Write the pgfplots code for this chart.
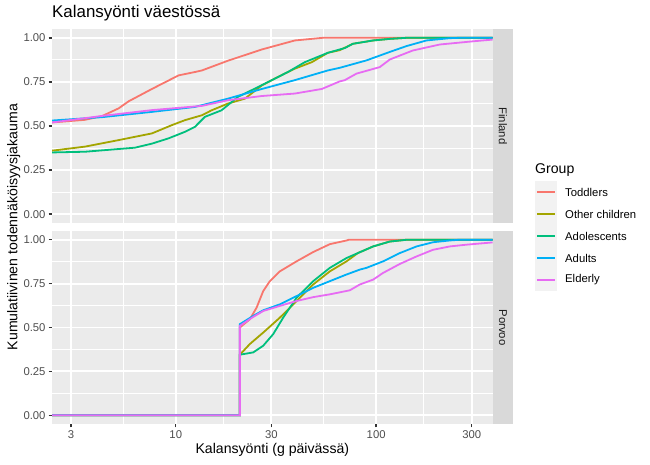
\documentclass[border=0pt]{standalone}
\usepackage{pgfplots}
\pgfplotsset{compat=1.18}
\usepackage{fontspec}
\setmainfont{Liberation Sans}
\definecolor{cTod}{HTML}{F8766D}
\definecolor{cOth}{HTML}{A3A500}
\definecolor{cAdo}{HTML}{00BF7D}
\definecolor{cAdu}{HTML}{00B0F6}
\definecolor{cEld}{HTML}{E76BF3}
\definecolor{gray92}{HTML}{EBEBEB}
\definecolor{gray85}{HTML}{D9D9D9}
\definecolor{gray95}{HTML}{F2F2F2}
\definecolor{gray30}{HTML}{4D4D4D}
\definecolor{gray20}{HTML}{333333}
\definecolor{gray10}{HTML}{1A1A1A}
\begin{document}
\begin{tikzpicture}
\useasboundingbox (0pt,0pt) rectangle (650pt,465pt);
% ---------------- top panel: Finland
\begin{axis}[name=top, at={(52pt,242pt)}, anchor=south west, height=194pt,
  scale only axis, width=440.7pt,
  xmode=log, xmin=2.412, xmax=381.7, ymin=-0.05, ymax=1.05,
  axis background/.style={fill=gray92},
  axis line style={draw=none},
  grid=both,
  major grid style={white, line width=1.8pt},
  minor grid style={white, line width=0.9pt},
  xtick={3,10,30,100,300},
  minor xtick={5.477,17.32,54.77,173.2},
  ytick={0,0.25,0.5,0.75,1},
  minor ytick={0.125,0.375,0.625,0.875},
  yticklabels={0.00,0.25,0.50,0.75,1.00},
  xticklabels={},
  tick align=outside, tick pos=left,
  major tick length=3.5pt, minor tick length=0pt,
  major tick style={gray20, line width=1.4pt},
  major x tick style={draw=none},
  minor tick style={draw=none},
  tick label style={font=\fontsize{11.3}{13}\selectfont, text=gray30, inner sep=2.8pt},
  clip mode=individual,
]
\addplot[cTod, line width=1.8pt] coordinates {(2.412,0.52) (3.523,0.535) (4.282,0.556) (5.188,0.60) (5.82,0.64) (7.605,0.71) (10.33,0.787) (12.46,0.806) (13.51,0.815) (18.20,0.87) (26.90,0.934) (39.30,0.985) (54.2,1.0) (381.7,1.0)};
\addplot[cOth, line width=1.8pt] coordinates {(2.412,0.36) (3.523,0.383) (5.188,0.42) (7.605,0.458) (9.568,0.505) (11.11,0.533) (13.51,0.561) (15.10,0.589) (18.20,0.627) (22.13,0.655) (26.90,0.73) (32.32,0.778) (39.30,0.825) (47.77,0.862) (57.41,0.915) (65.87,0.93) (76.49,0.966) (96.6,0.985) (117.0,0.994) (141.7,1.0) (381.7,1.0)};
\addplot[cAdo, line width=1.8pt] coordinates {(2.412,0.35) (3.523,0.354) (6.256,0.377) (7.605,0.40) (9.21,0.43) (11.11,0.467) (12.46,0.495) (13.98,0.552) (16.93,0.589) (20.42,0.665) (24.82,0.712) (30.07,0.759) (36.26,0.806) (44.08,0.862) (57.41,0.915) (69.77,0.942) (76.49,0.966) (96.6,0.985) (117.0,0.994) (141.7,1.0) (381.7,1.0)};
\addplot[cAdu, line width=1.8pt] coordinates {(2.412,0.531) (4.282,0.55) (7.605,0.58) (12.46,0.608) (18.20,0.655) (26.90,0.71) (39.30,0.76) (57.41,0.815) (65.87,0.83) (89.5,0.872) (117.0,0.92) (141.7,0.953) (178.3,0.985) (233.0,0.998) (260,1.0) (381.7,1.0)};
\addplot[cEld, line width=1.8pt] coordinates {(2.412,0.52) (4.282,0.557) (7.605,0.59) (13.51,0.614) (18.20,0.646) (26.90,0.67) (39.30,0.684) (53.58,0.71) (65.87,0.753) (69.77,0.76) (79.8,0.797) (104.3,0.834) (117.0,0.877) (152.3,0.928) (207.7,0.962) (303.4,0.98) (381.7,0.99)};
\fill[gray85] (axis description cs:1,0) rectangle ([xshift=20.6pt]axis description cs:1,1);
\node[rotate=-90, font=\fontsize{11.3}{13}\selectfont, text=gray10] at ([xshift=10.3pt]axis description cs:1,0.5) {Finland};
\node[anchor=base west, font=\fontsize{16.9}{19}\selectfont, inner sep=0pt] at (axis description cs:0,1.0603) {Kalansyönti väestössä};
\node[anchor=base west, font=\fontsize{14.1}{16}\selectfont, inner sep=0pt] at (axis description cs:1.096,0.256) {Group};
\end{axis}
% ---------------- legend keys (ggplot style)
\foreach \i/\c/\t in {0/cTod/Toddlers,1/cOth/Other children,2/cAdo/Adolescents,3/cAdu/Adults,4/cEld/Elderly}{
  \fill[gray95] ([xshift=42.3pt,yshift={-152pt-\i*22pt}]top.north east) rectangle ++(22.3pt,-22pt);
  \draw[\c, line width=2pt] ([xshift=44.6pt,yshift={-163pt-\i*22pt}]top.north east) -- ++(17.7pt,0pt);
  \node[anchor=west, inner sep=0pt, font=\fontsize{11.3}{13}\selectfont] at ([xshift=72.3pt,yshift={-163pt-\i*22pt}]top.north east) {\t};
}
% ---------------- bottom panel: Porvoo
\begin{axis}[name=bottom, at={(52pt,41pt)}, anchor=south west, height=193pt,
  scale only axis, width=440.7pt,
  xmode=log, xmin=2.412, xmax=381.7, ymin=-0.05, ymax=1.05,
  axis background/.style={fill=gray92},
  axis line style={draw=none},
  grid=both,
  major grid style={white, line width=1.8pt},
  minor grid style={white, line width=0.9pt},
  xtick={3,10,30,100,300},
  minor xtick={5.477,17.32,54.77,173.2},
  ytick={0,0.25,0.5,0.75,1},
  minor ytick={0.125,0.375,0.625,0.875},
  yticklabels={0.00,0.25,0.50,0.75,1.00},
  xticklabels={3,10,30,100,300},
  tick align=outside, tick pos=left,
  major tick length=3.5pt, minor tick length=0pt,
  major tick style={gray20, line width=1.4pt},
  minor tick style={draw=none},
  tick label style={font=\fontsize{11.3}{13}\selectfont, text=gray30, inner sep=2.8pt},
  clip mode=individual,
]
\addplot[cTod, line width=1.8pt] coordinates {(2.412,0) (20.89,0) (20.89,0.50) (23.44,0.547) (25.31,0.613) (27.31,0.707) (29.49,0.764) (33.07,0.82) (40.08,0.877) (48.49,0.93) (58.75,0.975) (71.15,0.996) (73.04,1.0) (381.7,1.0)};
\addplot[cOth, line width=1.8pt] coordinates {(2.412,0) (20.89,0) (20.89,0.345) (23.44,0.406) (27.31,0.471) (33.07,0.556) (40.08,0.651) (48.49,0.745) (58.75,0.82) (71.15,0.877) (81.0,0.924) (96.6,0.962) (117.0,0.99) (141.7,1.0) (381.7,1.0)};
\addplot[cAdo, line width=1.8pt] coordinates {(2.412,0) (20.89,0) (20.89,0.345) (24.34,0.358) (27.31,0.396) (30.63,0.462) (34.36,0.556) (40.08,0.67) (48.49,0.764) (58.75,0.84) (71.15,0.896) (81.0,0.924) (96.6,0.962) (117.0,0.99) (141.7,1.0) (381.7,1.0)};
\addplot[cAdu, line width=1.8pt] coordinates {(2.412,0) (20.89,0) (20.89,0.519) (24.34,0.566) (27.31,0.598) (33.07,0.632) (40.08,0.679) (48.49,0.726) (58.75,0.764) (71.15,0.802) (82.89,0.83) (89.5,0.84) (108.3,0.877) (131.2,0.924) (159.0,0.962) (192.4,0.986) (233.0,0.996) (260,1.0) (381.7,1.0)};
\addplot[cEld, line width=1.8pt] coordinates {(2.412,0) (20.89,0) (20.89,0.51) (24.34,0.56) (27.31,0.594) (33.07,0.623) (40.08,0.651) (48.49,0.673) (58.75,0.689) (73.89,0.712) (82.89,0.745) (96.6,0.773) (108.3,0.811) (131.2,0.862) (159.0,0.905) (192.4,0.943) (233.0,0.962) (282.3,0.972) (381.7,0.985)};
\fill[gray85] (axis description cs:1,0) rectangle ([xshift=20.6pt]axis description cs:1,1);
\node[rotate=-90, font=\fontsize{11.3}{13}\selectfont, text=gray10] at ([xshift=10.3pt]axis description cs:1,0.5) {Porvoo};
\node[anchor=base, font=\fontsize{14.1}{16}\selectfont, inner sep=0pt] at (axis description cs:0.5,-0.1518) {Kalansyönti (g päivässä)};
\node[anchor=base, rotate=90, font=\fontsize{14.1}{16}\selectfont, inner sep=0pt] at (axis description cs:-0.0787,1.0207) {Kumulatiivinen todennäköisyysjakauma};
\end{axis}
\end{tikzpicture}
\end{document}
